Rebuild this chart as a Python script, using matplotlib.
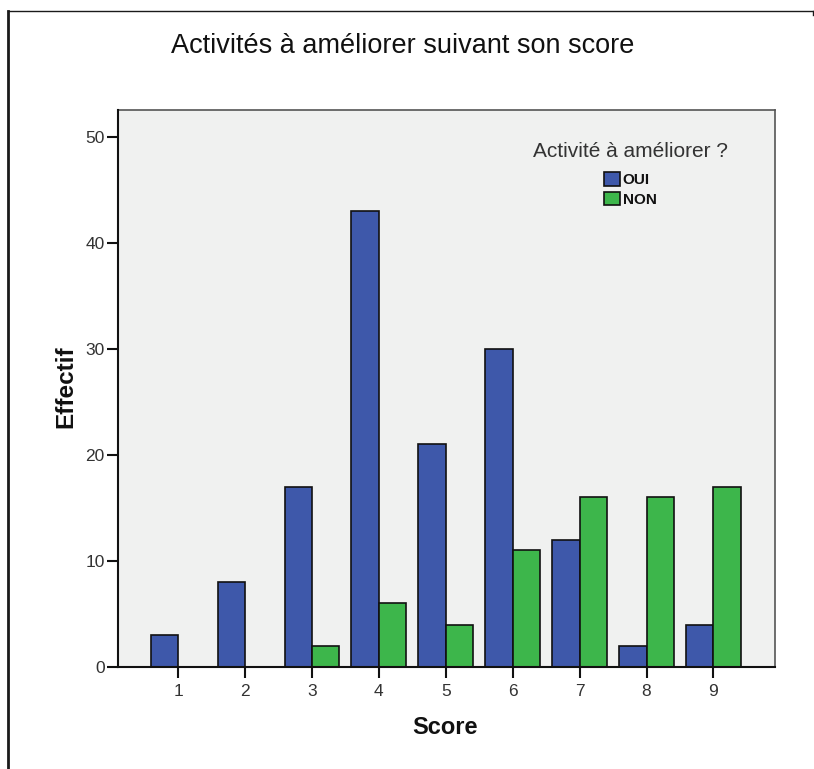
import numpy as np
import matplotlib
matplotlib.use("Agg")
import matplotlib.pyplot as plt
from matplotlib.lines import Line2D

plt.rcParams['font.family'] = ['Liberation Sans', 'DejaVu Sans']

# data
scores = [1, 2, 3, 4, 5, 6, 7, 8, 9]
oui = [3, 8, 17, 43, 21, 30, 12, 2, 4]
non = [0, 0, 2, 6, 4, 11, 16, 16, 17]
series_labels = ["OUI", "NON"]
y_ticks = [0, 10, 20, 30, 40, 50]

W, H = 814, 769
fig = plt.figure(figsize=(W / 100, H / 100), dpi=100)
fig.patch.set_facecolor("white")

# outer frame (left + top like the SPSS export)
fig.add_artist(Line2D([8 / W, 8 / W], [0, 1 - 11 / H], color="#1a1a1a", lw=2.0,
                      transform=fig.transFigure))
fig.add_artist(Line2D([8 / W, 813 / W], [1 - 11 / H, 1 - 11 / H], color="#1a1a1a", lw=1.0,
                      transform=fig.transFigure))
fig.add_artist(Line2D([813 / W, 813 / W], [1 - 11 / H, 1 - 15 / H], color="#1a1a1a", lw=1.0,
                      transform=fig.transFigure))

ax = fig.add_axes([118 / W, 1 - 667 / H, (775 - 118) / W, (667 - 110) / H])
ax.set_facecolor("#F0F1F0")

blue = "#3E58AA"
green = "#3DB64B"
bw = 0.41
x = np.array(scores)
b1 = ax.bar(x, oui, width=-bw, align="edge", color=blue, edgecolor="#111111", linewidth=1.2,
            label=series_labels[0], zorder=3)
b2 = ax.bar(x, non, width=bw, align="edge", color=green, edgecolor="#111111", linewidth=1.2,
            label=series_labels[1], zorder=3)

ax.set_xlim(0.1, 9.92)
ax.set_ylim(0, 52.5)
ax.set_xticks(scores)
ax.set_xticklabels([str(s) for s in scores])
ax.set_yticks(y_ticks)

for s in ["left", "bottom"]:
    ax.spines[s].set_color("#111111")
    ax.spines[s].set_linewidth(1.5)
    ax.spines[s].set_zorder(4)
for s in ["top", "right"]:
    ax.spines[s].set_color("#555555")
    ax.spines[s].set_linewidth(1.2)

ax.tick_params(axis="x", direction="out", length=8, width=1.5, color="#111111",
               labelsize=12.5, labelcolor="#333333", pad=4)
ax.tick_params(axis="y", direction="out", length=8, width=1.5, color="#111111",
               labelsize=12.5, labelcolor="#333333", pad=1.5)

fig.text(403 / W, 1 - 46 / H, "Activités à améliorer suivant son score", ha="center", va="center",
         fontsize=19.5, color="#111111")
fig.text(66 / W, 1 - 387 / H, "Effectif", ha="center", va="center", rotation=90,
         fontsize=17.5, fontweight="bold", color="#111111")
fig.text(445 / W, 1 - 727 / H, "Score", ha="center", va="center",
         fontsize=17, fontweight="bold", color="#111111")

leg = ax.legend(handles=[b1, b2], title="Activité à améliorer ?", frameon=False,
                loc="upper left", bbox_to_anchor=((533 - 118) / (775 - 118), 1 - (142 - 110) / (667 - 110)),
                fontsize=11, title_fontsize=15, handlelength=1.0, handleheight=1.0,
                handletextpad=0.2, labelspacing=0.3, borderpad=0, borderaxespad=0)
leg.get_title().set_color("#333333")
for t in leg.get_texts():
    t.set_fontweight("bold")
    t.set_color("#111111")
leg._legend_box.sep = 8

fig.savefig("out.png", dpi=100)
